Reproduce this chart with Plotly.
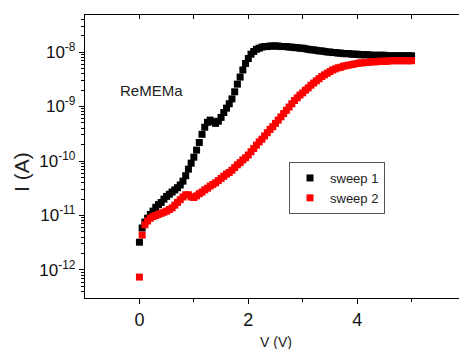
import numpy as np
import plotly.graph_objects as go

# Voltage sweep points (V), 0 to 5 V in 0.05 V steps
voltage = [round(0.05 * i, 2) for i in range(101)]

# log10 of current (A)
sweep1_log_i = [
    -11.49, -11.23, -11.12, -11.05, -10.98, -10.92, -10.85, -10.80, -10.76, -10.70,
    -10.65, -10.61, -10.57, -10.53, -10.49, -10.44, -10.37, -10.27, -10.15, -10.04,
    -9.93, -9.80, -9.66, -9.51, -9.38, -9.29, -9.25, -9.28, -9.31, -9.27,
    -9.20, -9.11, -9.03, -8.95, -8.86, -8.73, -8.59, -8.46, -8.33, -8.21,
    -8.12, -8.04, -7.99, -7.95, -7.93, -7.91, -7.90, -7.90, -7.89, -7.89,
    -7.89, -7.89, -7.90, -7.90, -7.90, -7.91, -7.91, -7.92, -7.92, -7.93,
    -7.93, -7.94, -7.95, -7.96, -7.96, -7.97, -7.98, -7.98, -7.99, -8.00,
    -8.00, -8.01, -8.01, -8.02, -8.02, -8.03, -8.03, -8.03, -8.04, -8.04,
    -8.04, -8.05, -8.05, -8.05, -8.05, -8.06, -8.06, -8.06, -8.06, -8.06,
    -8.06, -8.07, -8.07, -8.07, -8.07, -8.07, -8.07, -8.07, -8.07, -8.07,
    -8.07,
]
sweep2_log_i = [
    -12.13, -11.36, -11.17, -11.10, -11.05, -11.02, -11.00, -10.98, -10.96, -10.94,
    -10.92, -10.89, -10.86, -10.81, -10.76, -10.71, -10.66, -10.62, -10.62, -10.66,
    -10.67, -10.64, -10.60, -10.57, -10.53, -10.50, -10.46, -10.43, -10.40, -10.36,
    -10.32, -10.28, -10.24, -10.21, -10.17, -10.12, -10.07, -10.03, -9.98, -9.94,
    -9.89, -9.83, -9.77, -9.71, -9.65, -9.60, -9.54, -9.48, -9.42, -9.37,
    -9.31, -9.25, -9.19, -9.13, -9.07, -9.01, -8.95, -8.89, -8.84, -8.79,
    -8.75, -8.70, -8.66, -8.61, -8.57, -8.53, -8.49, -8.45, -8.42, -8.39,
    -8.36, -8.33, -8.31, -8.29, -8.28, -8.26, -8.25, -8.24, -8.23, -8.22,
    -8.21, -8.20, -8.20, -8.19, -8.19, -8.18, -8.18, -8.18, -8.17, -8.17,
    -8.17, -8.17, -8.16, -8.16, -8.16, -8.16, -8.16, -8.16, -8.16, -8.16,
    -8.16,
]
series_names = ["sweep 1", "sweep 2"]
x_tick_vals = [0, 2, 4]
x_edge_label = "6"
y_decades = [-12, -11, -10, -9, -8]
y_tick_text = ["10<sup>-12</sup>", "10<sup>-11</sup>", "10<sup>-10</sup>",
               "10<sup>-9</sup>", "10<sup>-8</sup>"]

sweep1_i = [10 ** v for v in sweep1_log_i]
sweep2_i = [10 ** v for v in sweep2_log_i]
y_tick_vals = [10.0 ** d for d in y_decades]
y_minor_vals = [m * 10.0 ** d for d in [-13] + y_decades for m in range(2, 10)]

FONT = "Arial, Liberation Sans, sans-serif"
# the page body adds an 8 px offset, so the figure is laid out 8 px up/left
L, R, T, B, W, H = 77, 1, 7, 51, 459, 341
PW, PH = W - L - R, H - T - B


def py(fig_px_y):
    return (H - B - fig_px_y) / PH


def px(fig_px_x):
    return (fig_px_x - L) / PW


fig = go.Figure()
fig.add_trace(go.Scatter(x=voltage, y=sweep1_i, mode="markers", name=series_names[0],
                         marker=dict(symbol="square", size=7, color="#000000", line=dict(width=0))))
fig.add_trace(go.Scatter(x=voltage, y=sweep2_i, mode="markers", name=series_names[1],
                         marker=dict(symbol="square", size=7, color="#FF0000", line=dict(width=0))))
# invisible trace to host the top axis
fig.add_trace(go.Scatter(x=[], y=[], xaxis="x2", showlegend=False, hoverinfo="skip"))

fig.update_layout(
    width=W, height=H,
    margin=dict(l=L, r=R, t=T, b=B),
    paper_bgcolor="white", plot_bgcolor="white",
    font=dict(family=FONT, color="#000000"),
    showlegend=True,
    legend=dict(x=px(281), y=py(154), xanchor="left", yanchor="top",
                bgcolor="white", bordercolor="#555555", borderwidth=1,
                font=dict(size=13, color="#222222"),
                itemsizing="trace", tracegroupgap=0, itemwidth=30),
    xaxis=dict(range=[-1, 6], tickvals=x_tick_vals, ticks="outside", ticklen=5,
               tickwidth=1, tickcolor="black", showline=True, linecolor="black",
               linewidth=1.3, showgrid=False, zeroline=False, automargin=False,
               tickfont=dict(size=18, family=FONT, color="#111111"),
               minor=dict(tickvals=[1, 3, 5], ticks="outside", ticklen=3, tickcolor="black")),
    xaxis2=dict(range=[-1, 6], overlaying="x", side="top", dtick=1, tick0=0,
                ticks="inside", ticklen=4, tickcolor="black", showticklabels=False,
                automargin=False,
                showline=True, linecolor="black", linewidth=1.3, showgrid=False, zeroline=False),
    yaxis=dict(type="log", range=[-12.514, -7.321], tickmode="array",
               tickvals=y_tick_vals, ticktext=y_tick_text,
               ticks="outside", ticklen=5, tickcolor="black", showline=True,
               linecolor="black", linewidth=1.3, showgrid=False, zeroline=False,
               automargin=False,
               tickfont=dict(size=17, family=FONT, color="#111111"),
               minor=dict(tickvals=y_minor_vals, ticks="outside", ticklen=3,
                          tickcolor="black", showgrid=False)),
    annotations=[
        dict(text="ReMEMa", x=-0.394, y=-8.70, xref="x", yref="y", xanchor="left",
             yanchor="middle", showarrow=False, font=dict(size=15, family=FONT, color="#222222")),
        dict(text="I (A)", x=px(14), y=py(164), xref="paper", yref="paper",
             textangle=-90, showarrow=False, xanchor="center", yanchor="middle",
             font=dict(size=21, family=FONT, color="#222222")),
        dict(text="V (V)", x=2.5, y=py(334), xref="x", yref="paper",
             xanchor="center", yanchor="middle", showarrow=False,
             font=dict(size=14, family=FONT, color="#222222")),
        dict(text=x_edge_label, x=6, y=py(307), xref="x", yref="paper",
             xanchor="center", yanchor="middle", showarrow=False,
             font=dict(size=18, family=FONT, color="#111111")),
    ],
)

fig.write_html("out.html")
